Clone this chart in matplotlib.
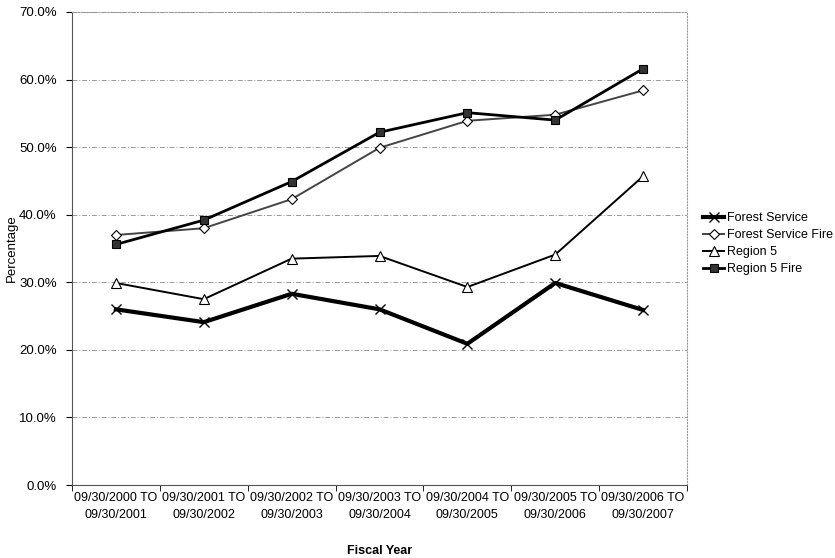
import matplotlib.pyplot as plt
from matplotlib.ticker import PercentFormatter, FixedLocator

plt.rcParams['font.family'] = ['Liberation Sans', 'DejaVu Sans']

periods = ["09/30/2000 TO\n09/30/2001", "09/30/2001 TO\n09/30/2002",
           "09/30/2002 TO\n09/30/2003", "09/30/2003 TO\n09/30/2004",
           "09/30/2004 TO\n09/30/2005", "09/30/2005 TO\n09/30/2006",
           "09/30/2006 TO\n09/30/2007"]
forest_service = [26.0, 24.1, 28.3, 26.0, 20.9, 29.9, 25.9]
forest_service_fire = [37.0, 38.0, 42.3, 49.9, 53.9, 54.8, 58.4]
region5 = [29.9, 27.5, 33.5, 33.9, 29.3, 34.1, 45.7]
region5_fire = [35.6, 39.2, 44.9, 52.2, 55.1, 54.0, 61.6]

fig = plt.figure(figsize=(8.35, 5.58), dpi=100)
ax = fig.add_axes([0.0862, 0.1308, 0.7366, 0.8477])

x = list(range(len(periods)))
ax.plot(x, forest_service, color='black', lw=3, marker='x', ms=7, mew=1,
        mec='black', label='Forest Service')
ax.plot(x, forest_service_fire, color='#444444', lw=1.4, marker='D', ms=5.5,
        mfc='white', mec='black', mew=0.8, label='Forest Service Fire')
ax.plot(x, region5, color='black', lw=1.4, marker='^', ms=7,
        mfc='white', mec='black', mew=0.8, label='Region 5')
ax.plot(x, region5_fire, color='black', lw=2, marker='s', ms=6,
        mfc='#333333', mec='black', mew=0.8, label='Region 5 Fire')

ax.set_xlim(-0.5, len(periods) - 0.5)
ax.set_ylim(0, 70)
ax.set_yticks(range(0, 71, 10))
ax.yaxis.set_major_formatter(PercentFormatter(decimals=1))
ax.set_xticks(x)
ax.set_xticklabels(periods, fontsize=9, linespacing=1.55)
ax.xaxis.set_minor_locator(FixedLocator([i + 0.5 for i in range(-1, len(periods))]))
ax.tick_params(axis='x', which='major', length=0, pad=5)
ax.tick_params(axis='x', which='minor', length=4, direction='out')
ax.tick_params(axis='y', labelsize=9.5, length=4, direction='out', pad=7)

ax.grid(axis='y', color='#999999', lw=0.7, linestyle=(0, (5, 2, 1, 2)))
for side in ['top', 'right']:
    ax.spines[side].set_color('#999999')
    ax.spines[side].set_linestyle(':')
    ax.spines[side].set_linewidth(0.8)
ax.spines['left'].set_color('#555555')
ax.spines['bottom'].set_color('#555555')

ax.set_ylabel('Percentage', fontsize=9.5)
ax.yaxis.set_label_coords(-0.088, 0.5)
ax.set_xlabel('Fiscal Year', fontsize=9, fontweight='bold', labelpad=17)

ax.legend(loc='center left', bbox_to_anchor=(1.012, 0.51), frameon=False,
          fontsize=9, handlelength=1.7, handletextpad=0.2, labelspacing=0.4,
          borderpad=0.2)

fig.savefig('out.png', dpi=100)
